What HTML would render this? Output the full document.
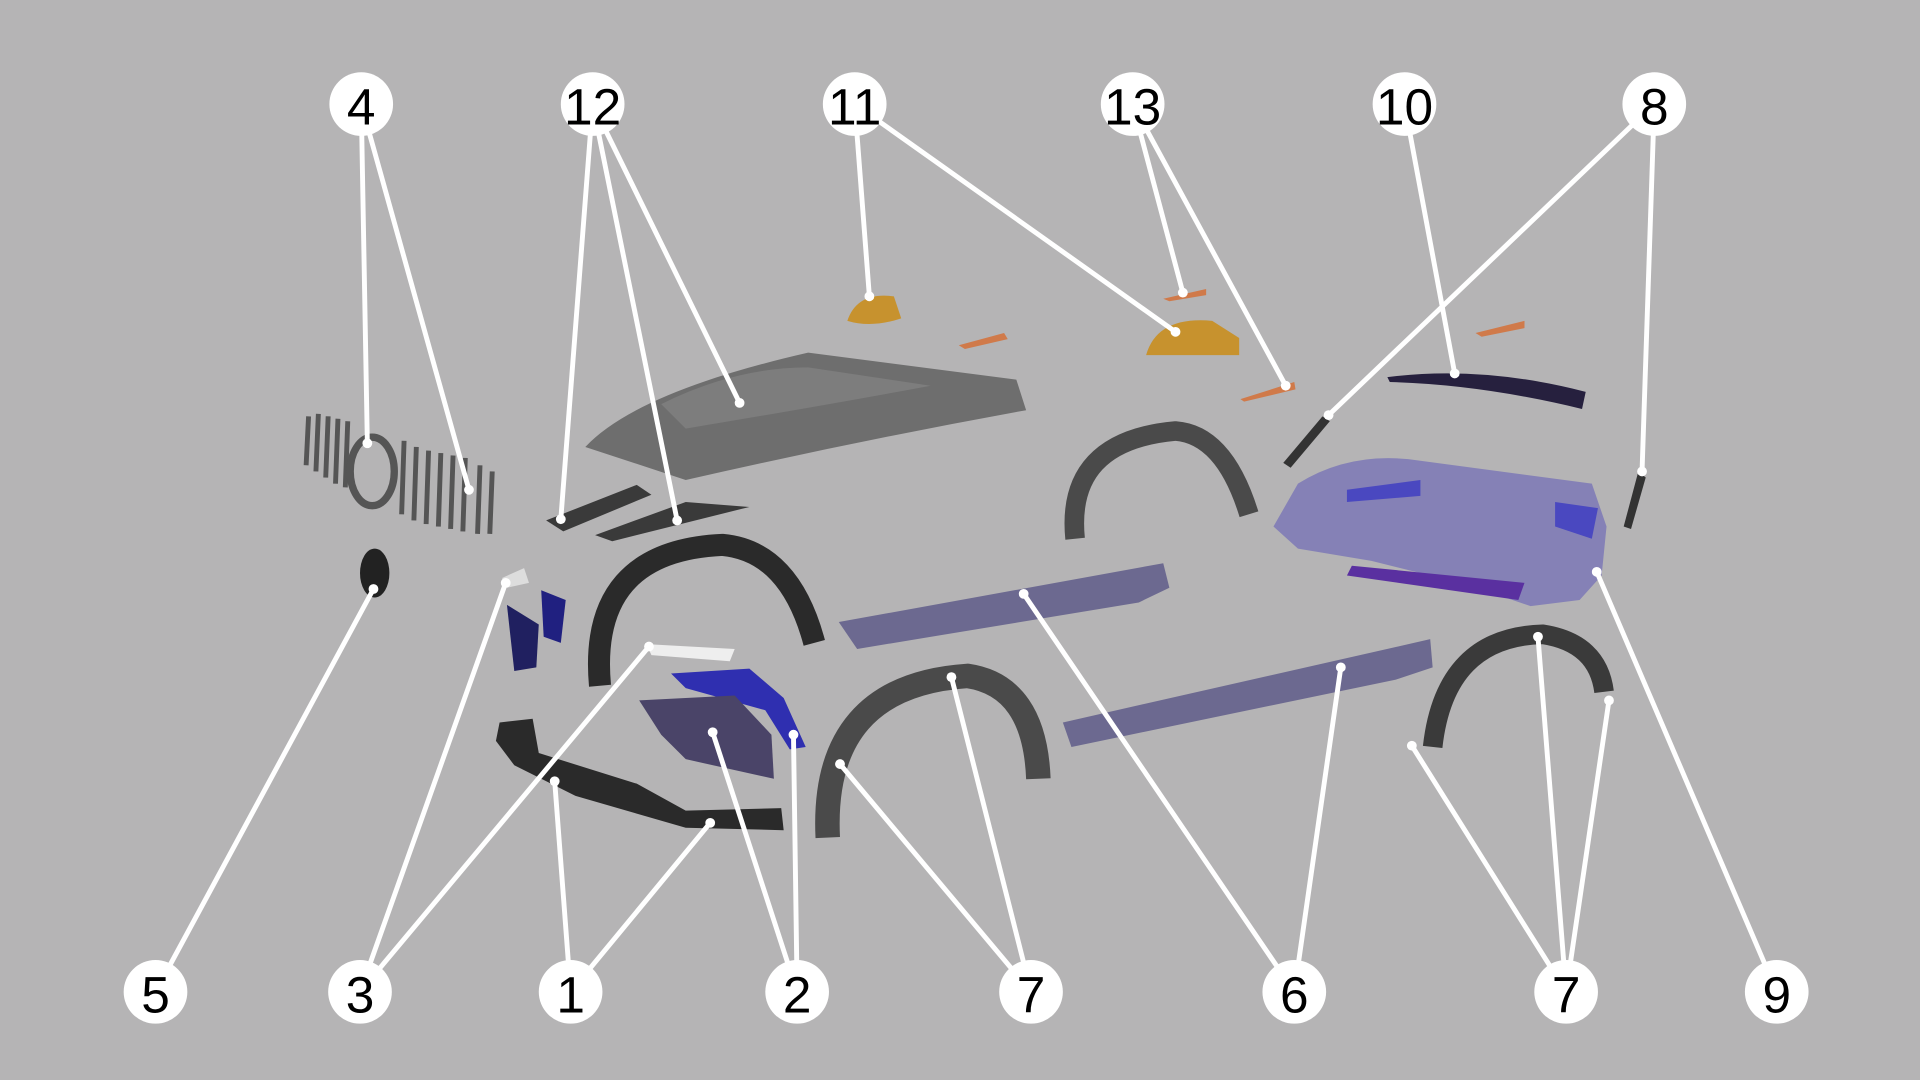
<!DOCTYPE html>
<html><head><meta charset="utf-8"><style>
html,body{margin:0;padding:0;background:#b5b4b5;}
svg{display:block}
text{font-family:"Liberation Sans",sans-serif;font-size:42px;fill:#000;text-anchor:middle;dominant-baseline:central}
</style></head><body>
<svg width="1920" height="1080" viewBox="0 0 1568 882" xmlns="http://www.w3.org/2000/svg">
<rect width="1568" height="882" fill="#b5b4b5"/>
<!-- parts -->
<g>
<!-- grille -->
<g stroke="#555" stroke-width="4" fill="none">
<path d="M252 340 L250 380 M260 338 L258 385 M268 340 L266 390 M276 342 L274 395 M284 344 L282 398 M330 360 L328 420 M340 365 L338 425 M350 368 L348 428 M360 370 L358 430 M370 372 L368 432 M380 374 L378 434 M392 380 L390 436 M402 385 L400 436"/>
<ellipse cx="304" cy="385" rx="18" ry="28" stroke-width="6"/>
</g>
<ellipse cx="306" cy="468" rx="12" ry="20" fill="#222"/>
<!-- hood -->
<path d="M478 365 Q520 320 660 288 L830 310 L838 335 Q700 360 560 392 Z" fill="#6e6e6e"/>
<path d="M540 330 Q600 300 660 300 L760 315 Q680 330 560 350Z" fill="#7d7d7d"/>
<!-- hood vents 12 -->
<path d="M446 425 L520 396 L532 404 L460 434Z" fill="#3a3a3a"/>
<path d="M486 437 L560 410 L612 414 L500 442Z" fill="#3a3a3a"/>
<!-- mirrors 11 -->
<path d="M692 262 Q700 238 730 242 L736 260 Q712 268 692 262Z" fill="#c7922e"/>
<path d="M936 290 Q945 258 990 262 L1012 276 L1012 290 Z" fill="#c7922e"/>
<path d="M783 282 L820 272 L823 277 L788 285Z" fill="#d07a4a"/>
<path d="M950 244 L985 236 L985 241 L955 246Z" fill="#d07a4a"/>
<path d="M1013 326 L1057 312 L1058 318 L1016 328Z" fill="#d07a4a"/>
<path d="M1205 272 L1245 262 L1245 268 L1210 275Z" fill="#d07a4a"/>
<!-- spoiler 10 -->
<path d="M1133 308 Q1210 298 1295 320 L1292 334 Q1210 314 1135 312Z" fill="#26203e"/>
<!-- rear bumper 9 -->
<path d="M1040 430 L1060 395 Q1100 370 1150 375 L1300 395 L1312 430 L1308 470 L1290 490 L1250 495 L1200 478 L1120 458 L1060 448 Z" fill="#8581b6"/>
<path d="M1100 400 L1160 392 L1160 405 L1100 410Z" fill="#4a48c0"/>
<path d="M1270 410 L1305 415 L1300 440 L1270 430Z" fill="#4a48c0"/>
<path d="M1104 462 L1245 476 L1240 490 L1100 470Z" fill="#5a30a0"/>
<!-- 8 reflectors -->
<path d="M1048 378 L1080 340 L1086 344 L1054 382Z" fill="#333"/>
<path d="M1326 430 L1338 385 L1344 390 L1332 432Z" fill="#333"/>
<!-- arches -->
<g fill="none" stroke-linecap="butt">
<path d="M878 440 Q870 360 960 352 Q1000 355 1020 420" stroke="#4a4a4a" stroke-width="16"/>
<path d="M490 560 Q480 450 590 445 Q645 450 665 525" stroke="#2a2a2a" stroke-width="18"/>
<path d="M676 684 Q670 560 790 552 Q845 560 848 636" stroke="#4a4a4a" stroke-width="20"/>
<path d="M1170 610 Q1180 520 1260 518 Q1305 525 1310 565" stroke="#3a3a3a" stroke-width="16"/>
</g>
<!-- side skirts 6 -->
<path d="M685 508 L950 460 L955 480 L930 492 L700 530 Z" fill="#6c6990"/>
<path d="M868 590 L1168 522 L1170 545 L1140 555 L875 610Z" fill="#6c6990"/>
<!-- front bumper 1 -->
<path d="M408 590 L435 587 L440 615 L520 640 L560 662 L638 660 L640 678 L560 676 L470 650 L420 625 L405 605Z" fill="#2a2a2a"/>
<!-- 2 -->
<path d="M548 550 L612 546 L640 570 L658 610 L645 612 L625 580 L560 562Z" fill="#2f2fb0"/>
<path d="M522 572 L600 568 L630 600 L632 636 L560 620 L540 600Z" fill="#4a4468"/>
<!-- 3 -->
<path d="M528 526 L600 530 L596 540 L532 535Z" fill="#eee"/>
<path d="M410 472 L428 464 L432 476 L414 480Z" fill="#ddd"/>
<path d="M414 494 L440 510 L438 545 L420 548Z" fill="#202060"/>
<path d="M442 482 L462 490 L458 525 L444 520Z" fill="#202080"/>
</g>
<!-- leader lines -->
<g stroke="#fff" stroke-width="4" fill="#fff" stroke-linecap="round">
<path d="M295 85 L300 362 M295 85 L383 400"/>
<path d="M484 85 L458 424 M484 85 L553 425 M484 85 L604 329"/>
<path d="M698 85 L710 242 M698 85 L960 271"/>
<path d="M925 85 L966 239 M925 85 L1050 315"/>
<path d="M1147 85 L1188 305"/>
<path d="M1351 85 L1085 339 M1351 85 L1341 385"/>
<path d="M127 810 L305 481"/>
<path d="M294 810 L413 476 M294 810 L530 528"/>
<path d="M466 810 L453 638 M466 810 L580 672"/>
<path d="M651 810 L582 598 M651 810 L648 600"/>
<path d="M842 810 L686 624 M842 810 L777 553"/>
<path d="M1057 810 L836 485 M1057 810 L1095 545"/>
<path d="M1279 810 L1153 609 M1279 810 L1256 520 M1279 810 L1314 572"/>
<path d="M1451 810 L1304 467"/>
<g stroke="none">
<circle cx="300" cy="362" r="4"/><circle cx="383" cy="400" r="4"/><circle cx="458" cy="424" r="4"/><circle cx="553" cy="425" r="4"/><circle cx="604" cy="329" r="4"/><circle cx="710" cy="242" r="4"/><circle cx="960" cy="271" r="4"/><circle cx="966" cy="239" r="4"/><circle cx="1050" cy="315" r="4"/><circle cx="1188" cy="305" r="4"/><circle cx="1085" cy="339" r="4"/><circle cx="1341" cy="385" r="4"/><circle cx="305" cy="481" r="4"/><circle cx="413" cy="476" r="4"/><circle cx="530" cy="528" r="4"/><circle cx="453" cy="638" r="4"/><circle cx="580" cy="672" r="4"/><circle cx="582" cy="598" r="4"/><circle cx="648" cy="600" r="4"/><circle cx="686" cy="624" r="4"/><circle cx="777" cy="553" r="4"/><circle cx="836" cy="485" r="4"/><circle cx="1095" cy="545" r="4"/><circle cx="1153" cy="609" r="4"/><circle cx="1256" cy="520" r="4"/><circle cx="1314" cy="572" r="4"/><circle cx="1304" cy="467" r="4"/>
</g>
</g>
<!-- label circles -->
<g fill="#fff">
<circle cx="295" cy="85" r="26"/><circle cx="484" cy="85" r="26"/><circle cx="698" cy="85" r="26"/><circle cx="925" cy="85" r="26"/><circle cx="1147" cy="85" r="26"/><circle cx="1351" cy="85" r="26"/>
<circle cx="127" cy="810" r="26"/><circle cx="294" cy="810" r="26"/><circle cx="466" cy="810" r="26"/><circle cx="651" cy="810" r="26"/><circle cx="842" cy="810" r="26"/><circle cx="1057" cy="810" r="26"/><circle cx="1279" cy="810" r="26"/><circle cx="1451" cy="810" r="26"/>
</g>
<text x="295" y="87">4</text><text x="484" y="87">12</text><text x="698" y="87">11</text><text x="925" y="87">13</text><text x="1147" y="87">10</text><text x="1351" y="87">8</text>
<text x="127" y="812">5</text><text x="294" y="812">3</text><text x="466" y="812">1</text><text x="651" y="812">2</text><text x="842" y="812">7</text><text x="1057" y="812">6</text><text x="1279" y="812">7</text><text x="1451" y="812">9</text>
</svg>
</body></html>
